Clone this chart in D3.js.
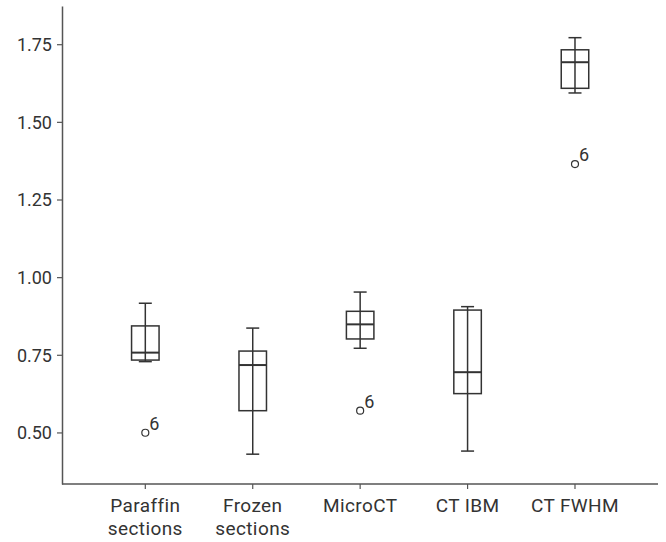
<!DOCTYPE html>
<html>
<head>
<meta charset="utf-8">
<script src="https://cdn.jsdelivr.net/npm/d3@7"></script>
<style>
  html, body { margin: 0; padding: 0; background: #fff; }
  svg { display: block; }
  text { font-family: Roboto, "DejaVu Sans", sans-serif; fill: #333; }
</style>
</head>
<body>
<svg id="chart" width="666" height="542"></svg>
<script>
// ---- data ----
const categories = [["Paraffin", "sections"], ["Frozen", "sections"], ["MicroCT"], ["CT IBM"], ["CT FWHM"]];
const whiskerLow  = [0.728, 0.430, 0.771, 0.440, 1.593];
const quartile1   = [0.733, 0.570, 0.801, 0.625, 1.608];
const medians     = [0.757, 0.717, 0.848, 0.694, 1.692];
const quartile3   = [0.843, 0.762, 0.890, 0.894, 1.732];
const whiskerHigh = [0.916, 0.836, 0.952, 0.905, 1.771];
const outlierValues = [0.499, null, 0.570, null, 1.364];
const outlierLabels = ["6", null, "6", null, "6"];
const yTicks = [0.50, 0.75, 1.00, 1.25, 1.50, 1.75];

// ---- layout ----
const svg = d3.select("#chart");
const axisLeftX = 62, axisBottomY = 484, axisTopY = 6, axisRightX = 658;
const ink = "#333";

const keys = categories.map(c => c.join(" "));
const x = d3.scaleBand().domain(keys).range([91.6, 628.7]).padding(0);
const y = d3.scaleLinear().domain([0.334, 1.873]).range([axisBottomY, axisTopY]);

const boxW = 27.5, capW = 13;

// y axis
const yAxis = svg.append("g")
  .attr("transform", `translate(${axisLeftX},0)`)
  .call(d3.axisLeft(y).tickValues(yTicks).tickFormat(d3.format(".2f")).tickSize(5).tickSizeOuter(0).tickPadding(5));
yAxis.select(".domain").attr("stroke", "#555").attr("stroke-width", 1.5);
yAxis.selectAll(".tick line").attr("stroke", "#555").attr("stroke-width", 1.2);
yAxis.selectAll(".tick text").attr("fill", ink).style("font-size", "18px").attr("dy", "0.35em");

// x axis
const xAxis = svg.append("g")
  .attr("transform", `translate(0,${axisBottomY})`)
  .call(d3.axisBottom(x).tickSize(5).tickSizeOuter(0).tickFormat(() => ""));
xAxis.select(".domain").remove();
xAxis.append("line").attr("x1", axisLeftX).attr("x2", axisRightX).attr("y1", 0).attr("y2", 0)
  .attr("stroke", "#555").attr("stroke-width", 1.5);
xAxis.selectAll(".tick line").attr("stroke", "#555").attr("stroke-width", 1.2);
xAxis.selectAll(".tick").each(function(d, i) {
  const t = d3.select(this).select("text").text(null)
    .attr("y", 28).attr("dy", null).style("font-size", "19px")
    .style("letter-spacing", "0.4px").attr("fill", ink);
  categories[i].forEach((line, j) => {
    t.append("tspan").attr("x", 0).attr("y", 28 + j * 23).text(line);
  });
});

// boxes
const g = svg.append("g");
keys.forEach((k, i) => {
  const cx = x(k) + x.bandwidth() / 2;
  const b = g.append("g").attr("stroke", ink).attr("fill", "none");
  b.append("line").attr("x1", cx).attr("x2", cx)
    .attr("y1", y(whiskerLow[i])).attr("y2", y(whiskerHigh[i])).attr("stroke-width", 1.5);
  [whiskerLow[i], whiskerHigh[i]].forEach(v => {
    b.append("line").attr("x1", cx - capW / 2).attr("x2", cx + capW / 2)
      .attr("y1", y(v)).attr("y2", y(v)).attr("stroke-width", 1.5);
  });
  b.append("rect").attr("x", cx - boxW / 2).attr("width", boxW)
    .attr("y", y(quartile3[i])).attr("height", y(quartile1[i]) - y(quartile3[i]))
    .attr("stroke-width", 1.5);
  b.append("line").attr("x1", cx - boxW / 2).attr("x2", cx + boxW / 2)
    .attr("y1", y(medians[i])).attr("y2", y(medians[i])).attr("stroke-width", 2);
  if (outlierValues[i] != null) {
    const oy = y(outlierValues[i]);
    g.append("circle").attr("cx", cx).attr("cy", oy).attr("r", 3.5)
      .attr("fill", "none").attr("stroke", ink).attr("stroke-width", 1.2);
    g.append("text").attr("x", cx + 4).attr("y", oy - 3)
      .style("font-size", "18px").text(outlierLabels[i]);
  }
});
</script>
</body>
</html>
